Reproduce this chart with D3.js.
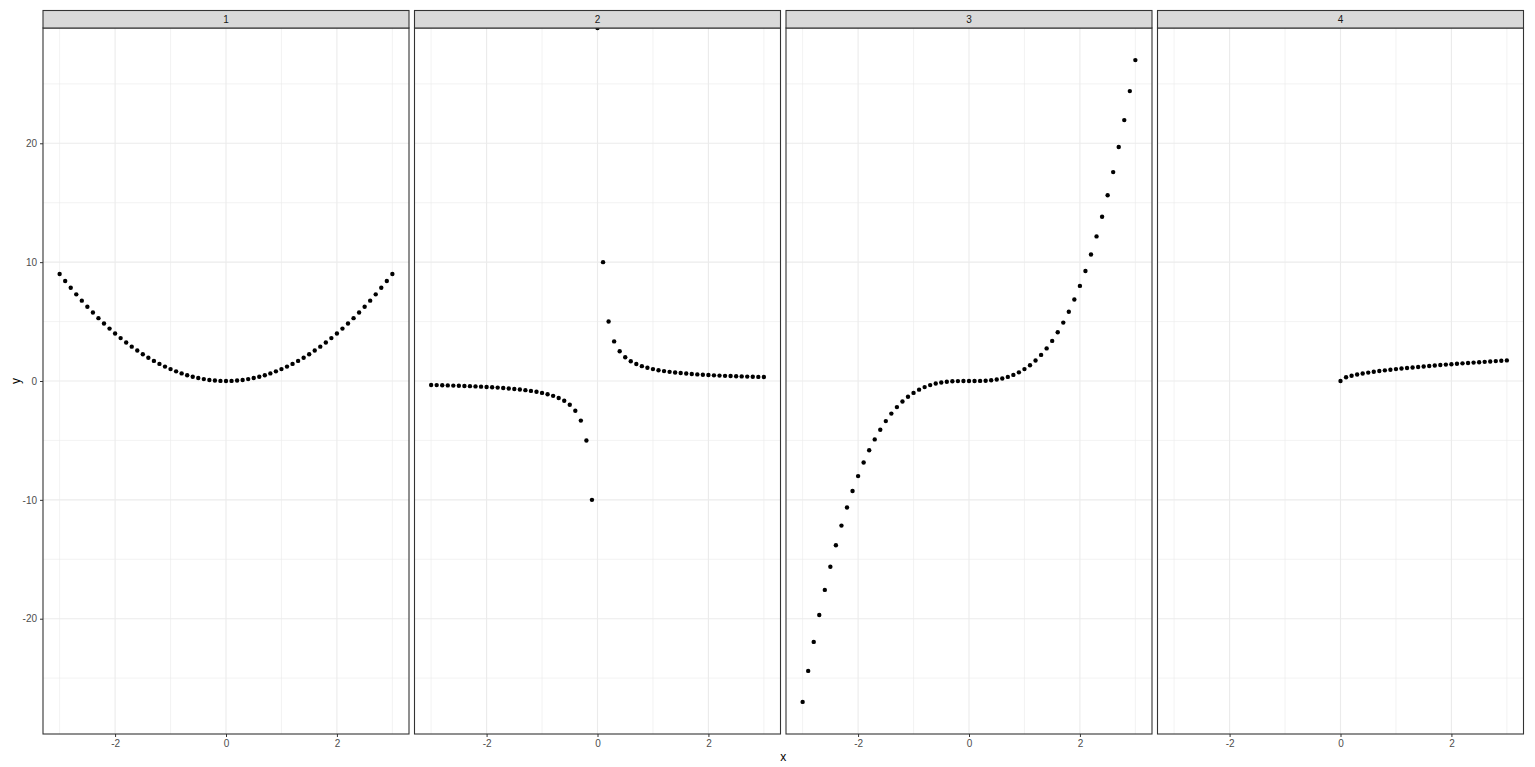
<!DOCTYPE html>
<html lang="en">
<head>
  <meta charset="UTF-8">
  <title>Facetted functions</title>
  <script src="https://d3js.org/d3.v7.min.js"></script>
  <style>
    body { margin: 0; background: #fff; font-family: "Liberation Sans", Arial, sans-serif; }
    .tick text { font-size: 10px; fill: #4d4d4d; }
    .tick line { stroke: #333; }
    .domain { display: none; }
    .strip-label { font-size: 10px; fill: #1a1a1a; text-anchor: middle; }
    .axis-title { font-size: 12px; fill: #000; text-anchor: middle; }
  </style>
</head>
<body>
  <svg width="1535" height="767"></svg>
  <script>
    // x values, shared by all panels
    const xs = [-3, -2.9, -2.8, -2.7, -2.6, -2.5, -2.4, -2.3, -2.2, -2.1, -2, -1.9, -1.8, -1.7, -1.6, -1.5,
      -1.4, -1.3, -1.2, -1.1, -1, -0.9, -0.8, -0.7, -0.6, -0.5, -0.4, -0.3, -0.2, -0.1, 0,
      0.1, 0.2, 0.3, 0.4, 0.5, 0.6, 0.7, 0.8, 0.9, 1, 1.1, 1.2, 1.3, 1.4, 1.5,
      1.6, 1.7, 1.8, 1.9, 2, 2.1, 2.2, 2.3, 2.4, 2.5, 2.6, 2.7, 2.8, 2.9, 3];

    const panels = ["1", "2", "3", "4"];

    const y1 = [9, 8.41, 7.84, 7.29, 6.76, 6.25, 5.76, 5.29, 4.84, 4.41, 4, 3.61, 3.24, 2.89, 2.56, 2.25,
      1.96, 1.69, 1.44, 1.21, 1, 0.81, 0.64, 0.49, 0.36, 0.25, 0.16, 0.09, 0.04, 0.01, 0,
      0.01, 0.04, 0.09, 0.16, 0.25, 0.36, 0.49, 0.64, 0.81, 1, 1.21, 1.44, 1.69, 1.96, 2.25,
      2.56, 2.89, 3.24, 3.61, 4, 4.41, 4.84, 5.29, 5.76, 6.25, 6.76, 7.29, 7.84, 8.41, 9];

    const y2 = [-0.333, -0.345, -0.357, -0.370, -0.385, -0.4, -0.417, -0.435, -0.455, -0.476, -0.5,
      -0.526, -0.556, -0.588, -0.625, -0.667, -0.714, -0.769, -0.833, -0.909, -1,
      -1.111, -1.25, -1.429, -1.667, -2, -2.5, -3.333, -5, -10, Infinity,
      10, 5, 3.333, 2.5, 2, 1.667, 1.429, 1.25, 1.111, 1,
      0.909, 0.833, 0.769, 0.714, 0.667, 0.625, 0.588, 0.556, 0.526, 0.5,
      0.476, 0.455, 0.435, 0.417, 0.4, 0.385, 0.370, 0.357, 0.345, 0.333];

    const y3 = [-27, -24.389, -21.952, -19.683, -17.576, -15.625, -13.824, -12.167, -10.648, -9.261, -8,
      -6.859, -5.832, -4.913, -4.096, -3.375, -2.744, -2.197, -1.728, -1.331, -1,
      -0.729, -0.512, -0.343, -0.216, -0.125, -0.064, -0.027, -0.008, -0.001, 0,
      0.001, 0.008, 0.027, 0.064, 0.125, 0.216, 0.343, 0.512, 0.729, 1,
      1.331, 1.728, 2.197, 2.744, 3.375, 4.096, 4.913, 5.832, 6.859, 8,
      9.261, 10.648, 12.167, 13.824, 15.625, 17.576, 19.683, 21.952, 24.389, 27];

    // only defined for x >= 0 (first 30 are missing)
    const y4 = [null, null, null, null, null, null, null, null, null, null, null, null, null, null, null,
      null, null, null, null, null, null, null, null, null, null, null, null, null, null, null,
      0, 0.316, 0.447, 0.548, 0.632, 0.707, 0.775, 0.837, 0.894, 0.949, 1,
      1.049, 1.095, 1.140, 1.183, 1.225, 1.265, 1.304, 1.342, 1.378, 1.414,
      1.449, 1.483, 1.517, 1.549, 1.581, 1.612, 1.643, 1.673, 1.703, 1.732];

    const series = [y1, y2, y3, y4];

    const xMajor = [-2, 0, 2];
    const xMinor = [-3, -1, 1, 3];
    const yMajor = [-20, -10, 0, 10, 20];
    const yMinor = [-25, -15, -5, 5, 15, 25];

    // layout
    const left = 43, panelW = 366, gap = 5.5;
    const stripTop = 10.5, stripH = 17.5;
    const plotTop = stripTop + stripH, plotBottom = 734;

    const svg = d3.select("svg");

    const x = d3.scaleLinear().domain([-3.3, 3.3]).range([0, panelW]);
    const y = d3.scaleLinear().domain([-29.7, 29.7]).range([plotBottom, plotTop]);

    // ggplot prints a plain hyphen, not the unicode minus
    const fmt = d => String(d);

    panels.forEach((p, i) => {
      const g = svg.append("g")
        .attr("transform", `translate(${left + i * (panelW + gap)},0)`);

      // minor grid
      g.selectAll(".vminor").data(xMinor).enter().append("line")
        .attr("x1", d => x(d)).attr("x2", d => x(d))
        .attr("y1", plotTop).attr("y2", plotBottom)
        .attr("stroke", "#ebebeb").attr("stroke-width", 0.6);
      g.selectAll(".hminor").data(yMinor).enter().append("line")
        .attr("x1", 0).attr("x2", panelW)
        .attr("y1", d => y(d)).attr("y2", d => y(d))
        .attr("stroke", "#ebebeb").attr("stroke-width", 0.6);
      // major grid
      g.selectAll(".vmajor").data(xMajor).enter().append("line")
        .attr("x1", d => x(d)).attr("x2", d => x(d))
        .attr("y1", plotTop).attr("y2", plotBottom)
        .attr("stroke", "#ebebeb").attr("stroke-width", 1.1);
      g.selectAll(".hmajor").data(yMajor).enter().append("line")
        .attr("x1", 0).attr("x2", panelW)
        .attr("y1", d => y(d)).attr("y2", d => y(d))
        .attr("stroke", "#ebebeb").attr("stroke-width", 1.1);

      // points (Inf gets drawn at the panel edge)
      const pts = xs.map((xv, j) => ({ x: xv, y: series[i][j] }))
        .filter(d => d.y !== null);
      g.selectAll(".pt").data(pts).enter().append("circle")
        .attr("cx", d => x(d.x))
        .attr("cy", d => d.y === Infinity ? plotTop : y(d.y))
        .attr("r", 2.2)
        .attr("fill", "#000");

      // panel border
      g.append("rect")
        .attr("x", 0).attr("y", plotTop)
        .attr("width", panelW).attr("height", plotBottom - plotTop)
        .attr("fill", "none").attr("stroke", "#333").attr("stroke-width", 1.1);

      // strip
      g.append("rect")
        .attr("x", 0).attr("y", stripTop)
        .attr("width", panelW).attr("height", stripH)
        .attr("fill", "#d9d9d9").attr("stroke", "#333").attr("stroke-width", 1.1);
      g.append("text")
        .attr("class", "strip-label")
        .attr("x", panelW / 2).attr("y", stripTop + stripH / 2 + 3.5)
        .text(p);

      // x axis
      g.append("g")
        .attr("transform", `translate(0,${plotBottom})`)
        .call(d3.axisBottom(x).tickValues(xMajor).tickSize(3).tickPadding(3).tickFormat(fmt));

      // y axis only on first panel
      if (i === 0) {
        g.append("g")
          .call(d3.axisLeft(y).tickValues(yMajor).tickSize(3).tickPadding(3).tickFormat(fmt));
      }
    });

    // axis titles
    const totalW = 4 * panelW + 3 * gap;
    svg.append("text")
      .attr("class", "axis-title")
      .attr("x", left + totalW / 2).attr("y", 761)
      .text("x");
    svg.append("text")
      .attr("class", "axis-title")
      .attr("transform", `translate(20,${(plotTop + plotBottom) / 2}) rotate(-90)`)
      .text("y");
  </script>
</body>
</html>
